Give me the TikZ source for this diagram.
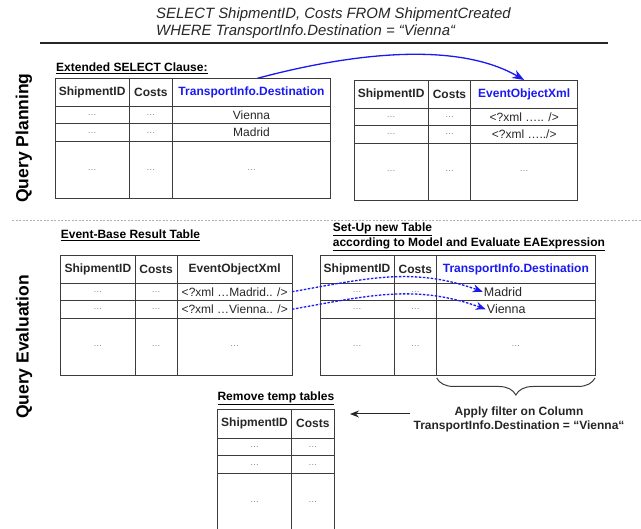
\documentclass[tikz,border=0pt]{standalone}
\usepackage{fontspec}
\setmainfont{Liberation Sans}
\usepackage{xcolor}
\usepackage{tikz}
\usetikzlibrary{positioning,arrows.meta,decorations.pathreplacing}

\definecolor{qblue}{RGB}{25,25,240}
\definecolor{gridgray}{RGB}{60,60,60}

\tikzset{
  cell/.style={draw=gridgray, line width=0.95pt, inner sep=1pt, outer sep=0pt,
    text=black!85, font=\fontsize{12}{14}\selectfont},
  headcell/.style={cell, minimum height=28pt, font=\fontsize{12}{14}\selectfont\bfseries},
  rowcell/.style={cell, minimum height=17.5pt},
  tallcell/.style={cell, minimum height=57pt},
  dots/.style={text=black!50, font=\fontsize{9}{10}\selectfont},
  caption/.style={anchor=west, inner sep=0pt, align=left,
    font=\fontsize{12}{15.3}\selectfont\bfseries},
  phase/.style={rotate=90, font=\fontsize{17.5}{20}\selectfont\bfseries},
  planarrow/.style={qblue, line width=1.3pt, -{Stealth[length=12pt,width=9pt]}},
  maparrow/.style={qblue, line width=1.3pt, dash pattern=on 2.5pt off 1.5pt,
    -{Stealth[length=10pt,width=8pt]}},
  backarrow/.style={black!85, line width=1pt, -{Stealth[length=9pt,width=7pt]}},
}

\begin{document}
\begin{tikzpicture}[x=1pt,y=1pt]
  \useasboundingbox (0,0) rectangle (641,529);

  % query and phases
  \node[anchor=north west, inner sep=0pt, align=left,
    font=\fontsize{14.9}{17}\selectfont\itshape, text=black!85] (query) at (156,521.5)
    {SELECT ShipmentID, Costs FROM ShipmentCreated\\WHERE TransportInfo.Destination = “Vienna“};
  \draw[line width=2.2pt, black!85] (40,486) -- (608,486);
  \draw[gray!60, line width=0.6pt, dash pattern=on 2pt off 1.5pt] (12,309) -- (641,309);
  \node[phase] (planning) at (24,391) {Query Planning};
  \node[phase] (evaluation) at (24,182) {Query Evaluation};

  % extended select clause
  \node[caption] (selcap) at (56,461) {\underline{Extended SELECT Clause:}};
  \node[headcell, minimum width=74.3pt, anchor=north west] (t1a) at (55,450.7) {ShipmentID};
  \node[headcell, minimum width=43pt, right=0pt of t1a] (t1b) {Costs};
  \node[headcell, minimum width=158.4pt, text=qblue, right=0pt of t1b] (t1c) {TransportInfo.Destination};
  \node[rowcell, dots, minimum width=74.3pt, below=0pt of t1a] (t1a1) {…};
  \node[rowcell, dots, minimum width=43pt, below=0pt of t1b] (t1b1) {…};
  \node[rowcell, minimum width=158.4pt, below=0pt of t1c] (t1c1) {Vienna};
  \node[rowcell, dots, minimum width=74.3pt, below=0pt of t1a1] (t1a2) {…};
  \node[rowcell, dots, minimum width=43pt, below=0pt of t1b1] (t1b2) {…};
  \node[rowcell, minimum width=158.4pt, below=0pt of t1c1] (t1c2) {Madrid};
  \node[tallcell, dots, minimum width=74.3pt, below=0pt of t1a2] (t1a3) {…};
  \node[tallcell, dots, minimum width=43pt, below=0pt of t1b2] (t1b3) {…};
  \node[tallcell, dots, minimum width=158.4pt, below=0pt of t1c2] (t1c3) {…};

  % planned table
  \node[headcell, minimum width=74.3pt, anchor=north west] (t2a) at (354,449) {ShipmentID};
  \node[headcell, minimum width=42.4pt, right=0pt of t2a] (t2b) {Costs};
  \node[headcell, minimum width=107pt, text=qblue, right=0pt of t2b] (t2c) {EventObjectXml};
  \node[rowcell, dots, minimum width=74.3pt, below=0pt of t2a] (t2a1) {…};
  \node[rowcell, dots, minimum width=42.4pt, below=0pt of t2b] (t2b1) {…};
  \node[rowcell, minimum width=107pt, below=0pt of t2c] (t2c1) {<?xml ….. />};
  \node[rowcell, dots, minimum width=74.3pt, below=0pt of t2a1] (t2a2) {…};
  \node[rowcell, dots, minimum width=42.4pt, below=0pt of t2b1] (t2b2) {…};
  \node[rowcell, minimum width=107pt, below=0pt of t2c1] (t2c2) {<?xml …../>};
  \node[tallcell, dots, minimum width=74.3pt, below=0pt of t2a2] (t2a3) {…};
  \node[tallcell, dots, minimum width=42.4pt, below=0pt of t2b2] (t2b3) {…};
  \node[tallcell, dots, minimum width=107pt, below=0pt of t2c2] (t2c3) {…};

  \draw[planarrow] ([xshift=6pt]t1c.north) to[out=15, in=150, looseness=0.8] (t2c.north);

  % event-base result table
  \node[caption] (basecap) at (60.7,293.5) {\underline{Event-Base Result Table}};
  \node[headcell, minimum width=74.3pt, anchor=north west] (t3a) at (60.7,274) {ShipmentID};
  \node[headcell, minimum width=42.3pt, right=0pt of t3a] (t3b) {Costs};
  \node[headcell, minimum width=114.7pt, right=0pt of t3b] (t3c) {EventObjectXml};
  \node[rowcell, dots, minimum width=74.3pt, below=0pt of t3a] (t3a1) {…};
  \node[rowcell, dots, minimum width=42.3pt, below=0pt of t3b] (t3b1) {…};
  \node[rowcell, minimum width=114.7pt, below=0pt of t3c] (t3c1) {<?xml …Madrid.. />};
  \node[rowcell, dots, minimum width=74.3pt, below=0pt of t3a1] (t3a2) {…};
  \node[rowcell, dots, minimum width=42.3pt, below=0pt of t3b1] (t3b2) {…};
  \node[rowcell, minimum width=114.7pt, below=0pt of t3c1] (t3c2) {<?xml …Vienna.. />};
  \node[tallcell, dots, minimum width=74.3pt, below=0pt of t3a2] (t3a3) {…};
  \node[tallcell, dots, minimum width=42.3pt, below=0pt of t3b2] (t3b3) {…};
  \node[tallcell, dots, minimum width=114.7pt, below=0pt of t3c2] (t3c3) {…};

  % new table from the model
  \node[caption] (setupcap) at (332.7,292)
    {\underline{Set-Up new Table}\\\underline{according to Model and Evaluate EAExpression}};
  \node[headcell, minimum width=74pt, anchor=north west] (t4a) at (320,274) {ShipmentID};
  \node[headcell, minimum width=42.7pt, right=0pt of t4a] (t4b) {Costs};
  \node[headcell, minimum width=158.3pt, text=qblue, right=0pt of t4b] (t4c) {TransportInfo.Destination};
  \node[rowcell, dots, minimum width=74pt, below=0pt of t4a] (t4a1) {…};
  \node[rowcell, dots, minimum width=42.7pt, below=0pt of t4b] (t4b1) {…};
  \node[rowcell, minimum width=158.3pt, below=0pt of t4c] (t4c1) {};
  \node[rowcell, dots, minimum width=74pt, below=0pt of t4a1] (t4a2) {…};
  \node[rowcell, dots, minimum width=42.7pt, below=0pt of t4b1] (t4b2) {…};
  \node[rowcell, minimum width=158.3pt, below=0pt of t4c1] (t4c2) {};
  \node[tallcell, dots, minimum width=74pt, below=0pt of t4a2] (t4a3) {…};
  \node[tallcell, dots, minimum width=42.7pt, below=0pt of t4b2] (t4b3) {…};
  \node[tallcell, dots, minimum width=158.3pt, below=0pt of t4c2] (t4c3) {…};
  \node[anchor=west, inner sep=1pt, font=\fontsize{12.5}{14}\selectfont, text=black!85]
    (madrid) at ([xshift=46pt]t4c1.west) {Madrid};
  \node[anchor=west, inner sep=1pt, font=\fontsize{12.5}{14}\selectfont, text=black!85]
    (vienna) at ([xshift=49pt]t4c2.west) {Vienna};

  \draw[maparrow] (t3c1.east) to[out=10, in=160] (madrid.west);
  \draw[maparrow] (t3c2.east) to[out=10, in=160] (vienna.west);

  % filter and clean-up
  \draw[gridgray, line width=1pt, decorate,
    decoration={brace, mirror, amplitude=17pt, raise=3pt}] (t4c3.south west) -- (t4c3.south east);
  \node[inner sep=3pt, align=center, font=\fontsize{12}{14.3}\selectfont\bfseries, text=black!85]
    (filter) at (519,109.4) {Apply filter on Column\\TransportInfo.Destination = “Vienna“};
  \coordinate (droptip) at (350,115);
  \draw[backarrow] ([yshift=5.6pt]filter.west) -- (droptip);

  \node[caption] (removecap) at (217.3,130.5) {\underline{Remove temp tables}};
  \node[headcell, minimum width=74.4pt, minimum height=29pt, anchor=north west] (t5a) at (217.3,119.7) {ShipmentID};
  \node[headcell, minimum width=42.3pt, minimum height=29pt, right=0pt of t5a] (t5b) {Costs};
  \node[rowcell, dots, minimum width=74.4pt, below=0pt of t5a] (t5a1) {…};
  \node[rowcell, dots, minimum width=42.3pt, below=0pt of t5b] (t5b1) {…};
  \node[rowcell, dots, minimum width=74.4pt, below=0pt of t5a1] (t5a2) {…};
  \node[rowcell, dots, minimum width=42.3pt, below=0pt of t5b1] (t5b2) {…};
  \node[tallcell, dots, minimum width=74.4pt, below=0pt of t5a2] (t5a3) {…};
  \node[tallcell, dots, minimum width=42.3pt, below=0pt of t5b2] (t5b3) {…};
\end{tikzpicture}
\end{document}
